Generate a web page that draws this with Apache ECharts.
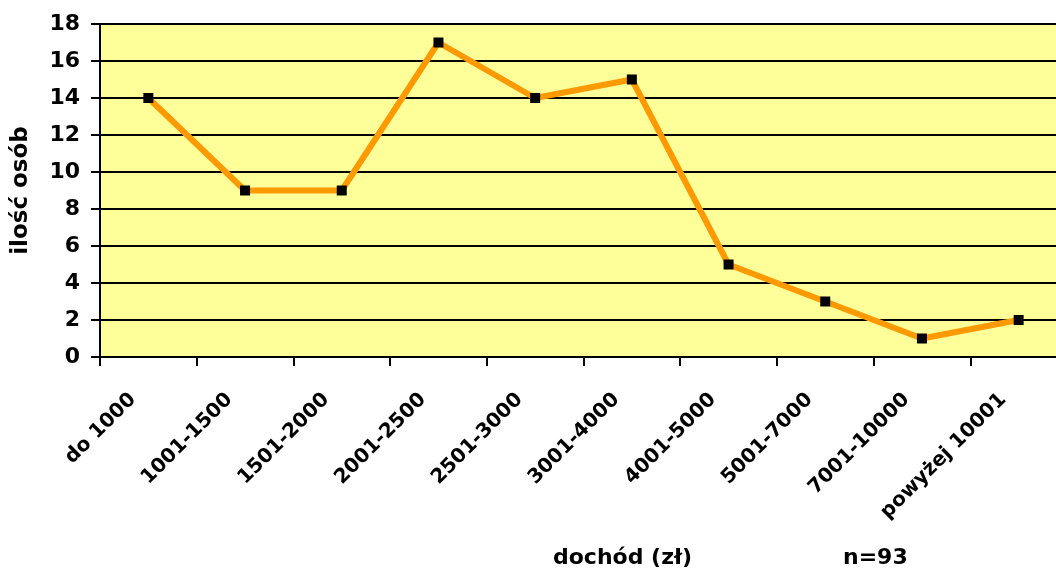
<!DOCTYPE html>
<html>
<head>
<meta charset="utf-8">
<script src="https://cdn.jsdelivr.net/npm/echarts@6/dist/echarts.min.js"></script>
<style>
  html, body { margin: 0; padding: 0; background: #fff; overflow: hidden; }
  /* the plot runs a little past the right edge of the window */
  #chart { width: 1080px; height: 572px; }
</style>
</head>
<body>
<div id="chart"></div>
<script>
// Income brackets and number of respondents in each
const categories = ['do 1000', '1001-1500', '1501-2000', '2001-2500', '2501-3000',
                    '3001-4000', '4001-5000', '5001-7000', '7001-10000', 'powyżej 10001'];
const counts = [14, 9, 9, 17, 14, 15, 5, 3, 1, 2];
const yTicks = { min: 0, max: 18, interval: 2 };
const xTitle = 'dochód (zł)';
const yTitle = 'ilość osób';
const sampleNote = 'n=93';

const font = '"DejaVu Sans", Verdana, sans-serif';
const chart = echarts.init(document.getElementById('chart'));

chart.setOption({
  backgroundColor: '#ffffff',
  animation: false,
  grid: {
    left: 100, top: 24, right: 13, bottom: 215,
    show: true, backgroundColor: '#FFFF99', borderColor: '#808080', borderWidth: 2
  },
  xAxis: {
    type: 'category',
    data: categories,
    boundaryGap: true,
    axisLine: { lineStyle: { color: '#000', width: 2 } },
    axisTick: { show: true, length: 9, lineStyle: { color: '#000', width: 2 } },
    axisLabel: {
      rotate: 45, interval: 0, margin: 24,
      padding: [0, 22, 0, 0],
      color: '#000', fontFamily: font, fontWeight: 'bold', fontSize: 20
    },
    splitLine: { show: false }
  },
  yAxis: {
    type: 'value',
    min: yTicks.min, max: yTicks.max, interval: yTicks.interval,
    name: yTitle,
    nameLocation: 'middle',
    nameGap: 67,
    nameTextStyle: { color: '#000', fontFamily: font, fontWeight: 'bold', fontSize: 23 },
    axisLine: { show: true, lineStyle: { color: '#000', width: 2 } },
    axisTick: { show: true, length: 9, lineStyle: { color: '#000', width: 2 } },
    axisLabel: { margin: 20, color: '#000', fontFamily: font, fontWeight: 'bold', fontSize: 22 },
    splitLine: { show: true, lineStyle: { color: '#000', width: 2 } }
  },
  graphic: [
    {
      type: 'text', x: 553, y: 558,
      style: { text: xTitle, fill: '#000', font: 'bold 22px ' + font, verticalAlign: 'middle' }
    },
    {
      type: 'text', x: 843, y: 558,
      style: { text: sampleNote, fill: '#000', font: 'bold 22px ' + font, verticalAlign: 'middle' }
    }
  ],
  series: [{
    type: 'line',
    data: counts,
    symbol: 'rect',
    symbolSize: 10,
    itemStyle: { color: '#000' },
    lineStyle: { color: '#FF9900', width: 6 },
    z: 3
  }]
});
</script>
</body>
</html>
